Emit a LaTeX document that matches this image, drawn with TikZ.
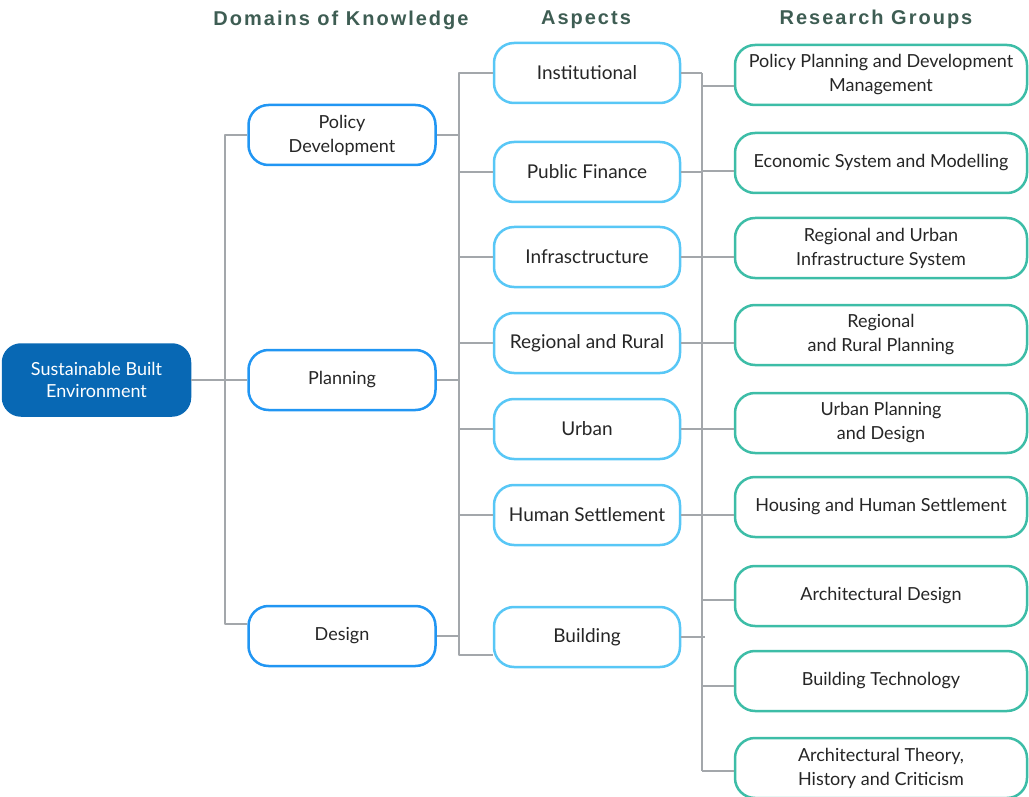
\documentclass[tikz,border=0pt]{standalone}
\usepackage{fontspec}
\setmainfont{Lato}
\newfontfamily\headfont[LetterSpace=10]{Liberation Sans}
\usetikzlibrary{positioning}
\definecolor{rootblue}{HTML}{0868B4}
\definecolor{domblue}{HTML}{2196F3}
\definecolor{aspblue}{HTML}{58C7F6}
\definecolor{grpteal}{HTML}{3DBDA7}
\definecolor{linkgray}{HTML}{A3A7AB}
\definecolor{headgreen}{HTML}{3E5D53}
\definecolor{txtgray}{HTML}{262626}
\tikzset{
  box/.style={rounded corners=20pt, line width=2.5pt, fill=white, minimum height=60pt,
    align=center, text=txtgray, inner sep=0pt},
  rootbox/.style={box, draw=rootblue, fill=rootblue, text=white, minimum width=187pt,
    minimum height=71pt, rounded corners=18pt},
  dombox/.style={box, draw=domblue, minimum width=187pt},
  aspbox/.style={box, draw=aspblue, minimum width=186pt, font=\fontsize{19}{24}\selectfont},
  grpbox/.style={box, draw=grpteal, minimum width=292pt},
  link/.style={draw=linkgray, line width=1.3pt},
  head/.style={font=\headfont\bfseries\fontsize{20}{22}\selectfont, text=headgreen}
}
\begin{document}
\begin{tikzpicture}[x=1pt,y=-1pt,font=\fontsize{18}{24}\selectfont,line join=round]
  \useasboundingbox (0,0) rectangle (1029,797);
  % column titles
  \node[head] (hdom) at (341,20) {Domains of Knowledge};
  \node[head] (hasp) at (586,20) {Aspects};
  \node[head] (hgrp) at (876,19) {Research Groups};
  % bus lines
  \coordinate (busA) at (225,0);
  \coordinate (busB) at (459,0);
  \coordinate (busC) at (702,0);
  % root and domains
  \node[rootbox] (sbe) at (96.5,380) {Sustainable Built\\[-2pt]Environment};
  \node[dombox] (pol) at (342,135) {Policy\\Development};
  \node[dombox] (pla) at (342,380) {Planning};
  \node[dombox] (des) at (342,636) {Design};
  % aspects
  \node[aspbox] (ins) at (587,73) {Institutional};
  \node[aspbox] (fin) at (587,172) {Public Finance};
  \node[aspbox] (inf) at (587,257) {Infrasctructure};
  \node[aspbox] (reg) at (587,343) {Regional and Rural};
  \node[aspbox] (urb) at (587,429) {Urban};
  \node[aspbox] (hum) at (587,515) {Human Settlement};
  \node[aspbox] (bld) at (587,637) {Building};
  % research groups
  \node[grpbox] (g1) at (881,75) {Policy Planning and Development\\Management};
  \node[grpbox] (g2) at (881,163) {Economic System and Modelling};
  \node[grpbox] (g3) at (881,248) {Regional and Urban\\Infrastructure System};
  \node[grpbox] (g4) at (881,335) {Regional\\and Rural Planning};
  \node[grpbox] (g5) at (881,423) {Urban Planning\\and Design};
  \node[grpbox] (g6) at (881,507) {Housing and Human Settlement};
  \node[grpbox] (g7) at (881,596) {Architectural Design};
  \node[grpbox] (g8) at (881,681) {Building Technology};
  \node[grpbox] (g9) at (881,768) {Architectural Theory,\\History and Criticism};
  % connectors
  \draw[link] (sbe.east) -- (pla.west);
  \draw[link] (pol.west) -| ([yshift=12pt]des.west -| busA) -- ([yshift=12pt]des.west);
  \foreach \d in {pol,pla,des}
    \draw[link] (\d.east) -- (\d.east -| busB);
  \draw[link] (ins.west) -| ([yshift=-18pt]bld.west -| busB) -- ([yshift=-18pt]bld.west);
  \foreach \a in {fin,inf,reg,urb,hum}
    \draw[link] (\a.west) -- (\a.west -| busB);
  \foreach \a in {ins,fin,inf,reg,urb,hum}
    \draw[link] (\a.east) -- (\a.east -| busC);
  \draw[link] (bld.east) -- ([xshift=3pt]bld.east -| busC);
  \draw[link] (ins.east -| busC) -- ([yshift=-3pt]g9.west -| busC);
  \foreach \g/\dy in {g1/-11,g2/-8,g3/-9,g4/-8,g5/-6,g6/-8,g7/-4,g8/-5,g9/-3}
    \draw[link] ([yshift=\dy pt]\g.west) -- ([yshift=\dy pt]\g.west -| busC);
\end{tikzpicture}
\end{document}
